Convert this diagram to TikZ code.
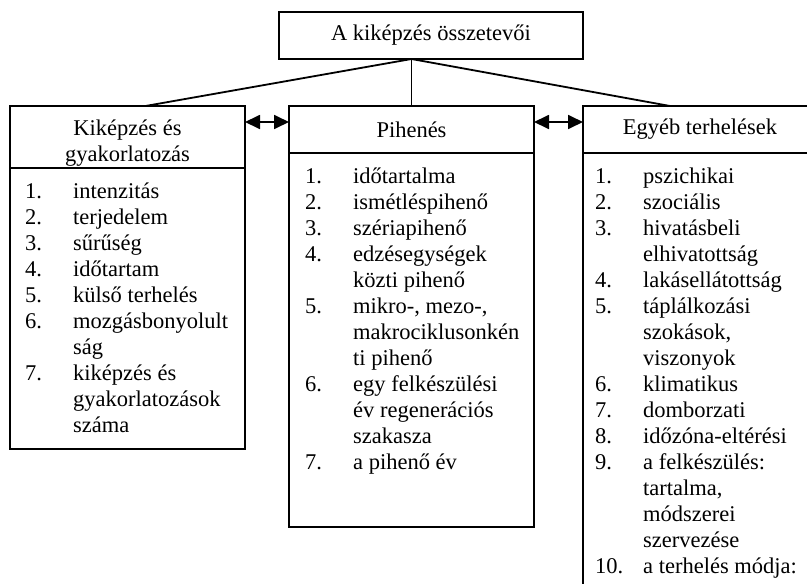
\documentclass[tikz,border=0pt]{standalone}
\usepackage{fontspec}
\setmainfont{Liberation Serif}
\usetikzlibrary{arrows.meta,positioning}

\newcommand{\pont}[2]{\makebox[48pt][l]{#1}#2}

\begin{document}
\begin{tikzpicture}[x=1pt,y=-1pt,>={Triangle[length=15pt,width=14pt]},
	every node/.style={font=\fontsize{22.5}{26}\selectfont}]
		\tikzstyle{box}=[rectangle, draw=black, line width=1.8pt, fill=white, inner sep=0pt, outer sep=0pt]
		\tikzstyle{item}=[anchor=base west, inner sep=0pt]
		\tikzstyle{conn}=[line width=1.8pt]

		\useasboundingbox (0,0) rectangle (807,584);
		\clip (0,0) rectangle (807,584);

		\node [box, minimum width=304pt, minimum height=47pt] (top) at (431,35.5) {A kiképzés összetevői};

		% fejlecek
		\node [box, anchor=north west, minimum width=235pt, minimum height=62pt] (kh) at (10,106) {};
		\node [inner sep=0pt, align=center] (khtxt) at ([yshift=-6.6pt]kh.center) {Kiképzés és\\gyakorlatozás};
		\node [box, anchor=north west, minimum width=245pt, minimum height=47pt] (ph) at (289,106) {Pihenés};
		\node [box, anchor=north west, minimum width=234pt, minimum height=47pt] (eh) at (583,106) {Egyéb terhelések};

		% listak
		\node [box, below=0pt of kh, minimum width=235pt, minimum height=281pt] (kl) {};
		\node [box, below=0pt of ph, minimum width=245pt, minimum height=374pt] (pl) {};
		\node [box, below=0pt of eh, minimum width=234pt, minimum height=460pt] (el) {};

		\foreach \n/\t [count=\i from 0] in {1./intenzitás, 2./terjedelem, 3./sűrűség, 4./időtartam, 5./külső terhelés, 6./mozgásbonyolult, /ság, 7./kiképzés és, /gyakorlatozások, /száma}
			\node [item] (k\i) at ([xshift=15pt, yshift=-30pt-\i*26pt]kl.north west) {\pont{\n}{\t}};
		\foreach \n/\t [count=\i from 0] in {1./időtartalma, 2./ismétléspihenő, 3./szériapihenő, 4./edzésegységek, /közti pihenő, 5./{mikro-, mezo-,}, /makrociklusonkén, /ti pihenő, 6./egy felkészülési, /év regenerációs, /szakasza, 7./a pihenő év}
			\node [item] (p\i) at ([xshift=16pt, yshift=-30pt-\i*26pt]pl.north west) {\pont{\n}{\t}};
		\foreach \n/\t [count=\i from 0] in {1./pszichikai, 2./szociális, 3./hivatásbeli, /elhivatottság, 4./lakásellátottság, 5./táplálkozási, /{szokások,}, /viszonyok, 6./klimatikus, 7./domborzati, 8./időzóna-eltérési, 9./a felkészülés:, /{tartalma,}, /módszerei, /szervezése, 10./a terhelés módja:}
			\node [item] (e\i) at ([xshift=12pt, yshift=-30pt-\i*26pt]el.north west) {\pont{\n}{\t}};

		% fa es nyilak
		\coordinate (apex) at (ph.north |- top.south);
		\draw [conn] (ph.north) -- (apex);
		\draw [conn] (apex) -- ([xshift=18pt]kh.north);
		\draw [conn] (apex) -- ([xshift=-30pt]eh.north);
		\draw [conn, <->] ([yshift=-16pt]kh.north east) -- ([yshift=-16pt]ph.north west);
		\draw [conn, <->] ([yshift=-16pt]ph.north east) -- ([yshift=-16pt]eh.north west);
	\end{tikzpicture}
\end{document}
